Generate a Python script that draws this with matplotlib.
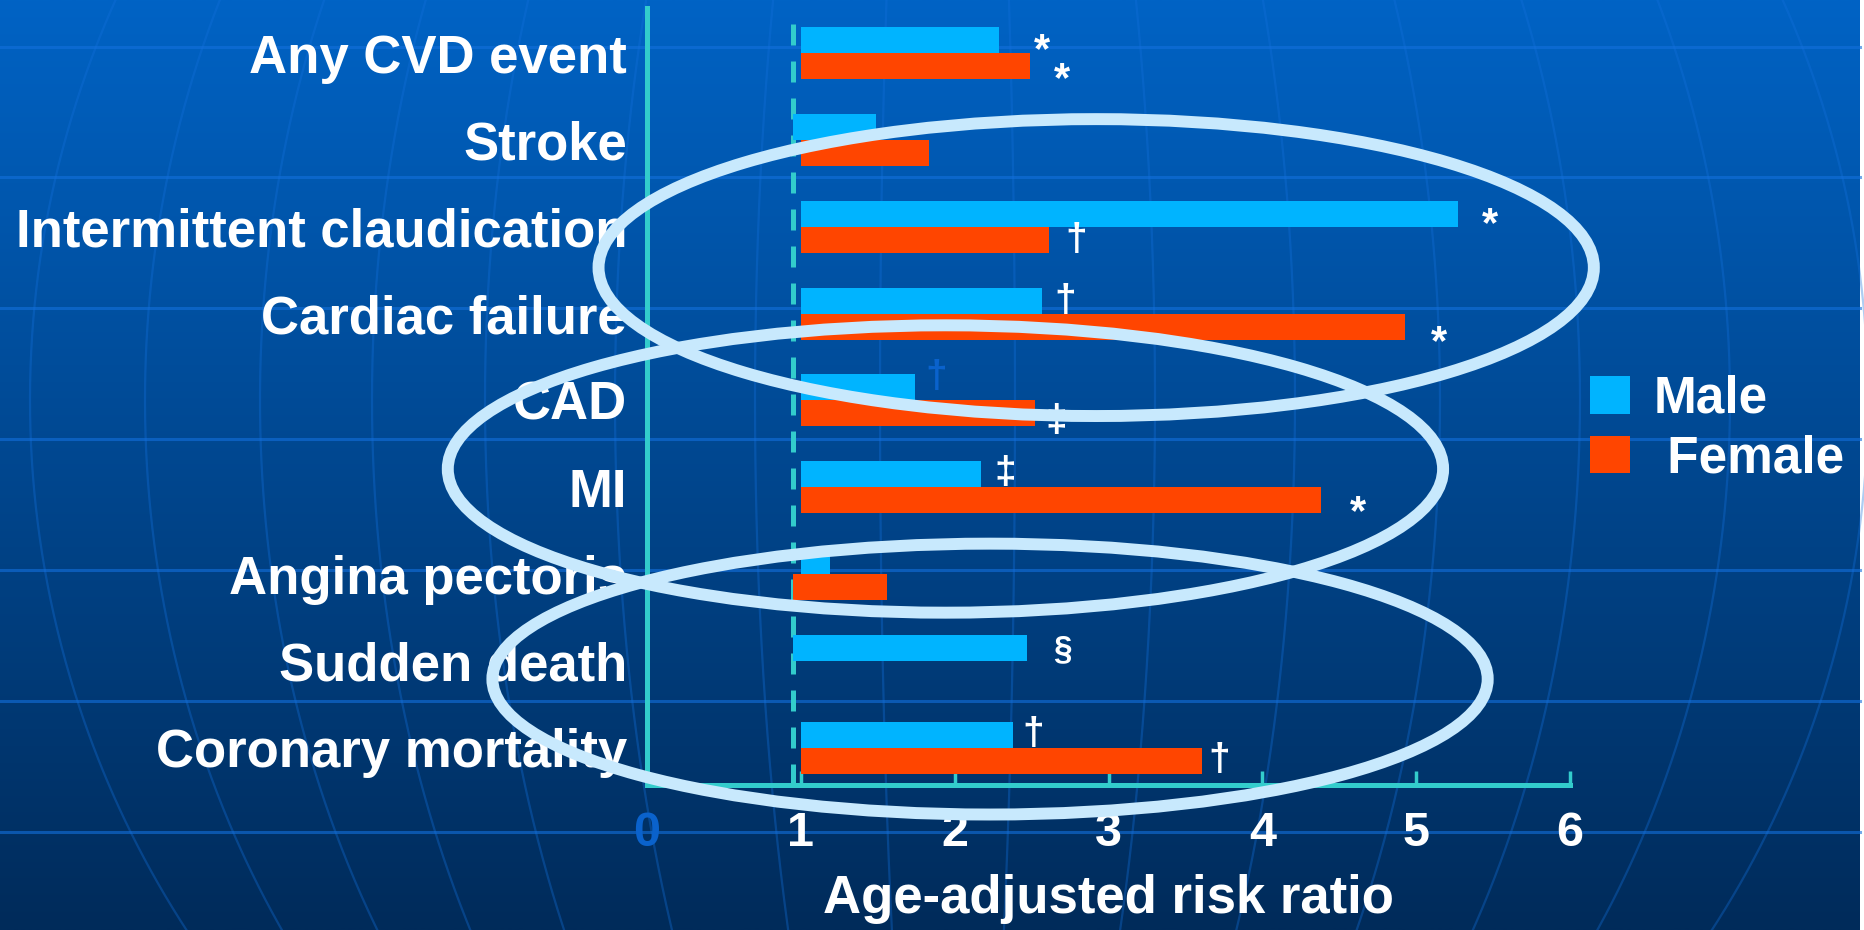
import numpy as np
import matplotlib
matplotlib.use('Agg')
import matplotlib.pyplot as plt
from matplotlib.patches import Ellipse

categories = ['Any CVD event', 'Stroke', 'Intermittent claudication', 'Cardiac failure',
              'CAD', 'MI', 'Angina pectoris', 'Sudden death', 'Coronary mortality']
male = [2.29, 1.49, 5.27, 2.57, 1.74, 2.17, 1.19, 2.47, 2.38]
female = [2.49, 1.83, 2.61, 4.93, 2.52, 4.38, 1.56, np.nan, 3.61]
# bars grow from the null value 1; a few were drawn from the dashed marker
male_start = [1, 0.95, 1, 1, 1, 1, 1, 0.95, 1]
female_start = [1, 1, 1, 1, 1, 1, 0.95, 1, 1]
# significance symbols next to each bar
male_marks = ['*', '', '*', '†', '†', '‡', '', '§', '†']
female_marks = ['*', '', '†', '*', '‡', '*', '', '', '†']
x_ticks = [0, 1, 2, 3, 4, 5, 6]

# symbol placement: x gap after the bar end (data units), y shift in pixels (down +)
male_dx = [0.275, 0, 0.21, 0.15, 0.14, 0.16, 0, 0.23, 0.13]
male_dy = [3, 0, 3, 0, -10, -1, 0, 2, -1]
female_dx = [0.21, 0, 0.18, 0.22, 0.14, 0.24, 0, 0, 0.11]
female_dy = [6, 0, 0, 8, 8, 5, 0, 0, -1]
male_mark_colors = ['white'] * 4 + ['#0a62cc'] + ['white'] * 4
mark_size = {'*': 30, '†': 28, '‡': 28, '§': 24}

MALE_C = '#00b4ff'
FEMALE_C = '#ff4500'
AXIS_C = '#33cccc'
RING_C = '#c8e9fd'

plt.rcParams['font.family'] = ['Liberation Sans', 'DejaVu Sans']
plt.rcParams['font.weight'] = 'bold'

W, H = 1865, 930
fig = plt.figure(figsize=(W / 100, H / 100), dpi=100, facecolor='white')

# slide background: vertical blue gradient with faint globe lines
bg = fig.add_axes([0, 0, 1, 1], zorder=-10)
top = np.array([0, 99, 197]) / 255
bot = np.array([0, 43, 90]) / 255
t = np.linspace(0, 1, 256)[:, None, None]
grad = top * (1 - t) + bot * t
grad = np.repeat(grad, 2, axis=1)
bg.imshow(grad, extent=[0, 1860, H, 0], aspect='auto', interpolation='bilinear')
for yy in [47, 177, 308, 439, 570, 701, 832]:
    bg.plot([0, 1860], [yy, yy], color='#1470dc', alpha=0.6, lw=2.2)
yy = np.linspace(0, H, 300)
for off in [-920, -805, -690, -578, -465, -335, -195, -70, 65, 205, 345, 490, 630, 780, 918]:
    xx = 950 + off * np.sqrt(1 - ((yy - 400) / 950) ** 2)
    bg.plot(xx, yy, color='#1470dc', alpha=0.35, lw=1.6)
bg.set_xlim(0, W)
bg.set_ylim(H, 0)
bg.axis('off')

ax = fig.add_axes([647 / W, (H - 785) / H, 923 / W, 777 / H])
ax.set_facecolor('none')

y = np.arange(len(categories))
h = 0.30
male_w = [m - s for m, s in zip(male, male_start)]
female_w = [f - s for f, s in zip(female, female_start)]
ax.barh(y - h / 2, male_w, left=male_start, height=h, color=MALE_C, label='Male', zorder=3)
ax.barh(y + h / 2, female_w, left=female_start, height=h, color=FEMALE_C, label=' Female', zorder=3)

ax.axvline(0.95, color=AXIS_C, lw=3.6, dashes=(4.2, 3.2), zorder=2)

for i in range(len(categories)):
    for val, mark, dx, dy, yc, col in [
            (male[i], male_marks[i], male_dx[i], male_dy[i], y[i] - h / 2, male_mark_colors[i]),
            (female[i], female_marks[i], female_dx[i], female_dy[i], y[i] + h / 2, 'white')]:
        if not mark:
            continue
        size = mark_size[mark]
        shift = dy + (0.2 * size * 100 / 72 if mark == '*' else 0)
        ax.annotate(mark, xy=(val + dx, yc), xytext=(0, -shift * 72 / 100),
                    textcoords='offset points', ha='center', va='center',
                    fontsize=size, color=col, fontweight='bold', zorder=4)

# rings grouping the rows of interest
for cx, cy, ew, eh in [(2.92, 2.47, 6.47, 3.42), (1.94, 4.79, 6.47, 3.31), (2.23, 7.21, 6.47, 3.12)]:
    ax.add_patch(Ellipse((cx, cy), ew, eh, fill=False, ec=RING_C, lw=8.6,
                         clip_on=False, zorder=6))

ax.set_xlim(0, 6)
ax.set_ylim(8.43, -0.52)
ax.set_xticks(x_ticks)
ax.set_xticklabels([str(v) for v in x_ticks])
ax.set_yticks(y)
ax.set_yticklabels(categories)
ax.tick_params(axis='y', length=0, pad=14.4, labelsize=38, labelcolor='white')
ax.tick_params(axis='x', direction='in', length=10, width=2.5, color=AXIS_C,
               pad=18.5, labelsize=35, labelcolor='white')
ax.get_xticklabels()[0].set_color('#0a62cc')
for side in ['top', 'right']:
    ax.spines[side].set_visible(False)
for side in ['left', 'bottom']:
    ax.spines[side].set_color(AXIS_C)
    ax.spines[side].set_linewidth(3.6)
ax.set_xlabel('Age-adjusted risk ratio', fontsize=38, color='white',
              fontweight='bold', labelpad=13)

ax.legend(loc='center left', bbox_to_anchor=(1590 / W, 1 - 429 / H),
          bbox_transform=fig.transFigure, frameon=False, fontsize=37,
          labelcolor='white', handlelength=0.78, handleheight=0.74,
          handletextpad=0.45, labelspacing=0.2, borderpad=0, borderaxespad=0)

fig.savefig('out.png', dpi=100, facecolor='white')
